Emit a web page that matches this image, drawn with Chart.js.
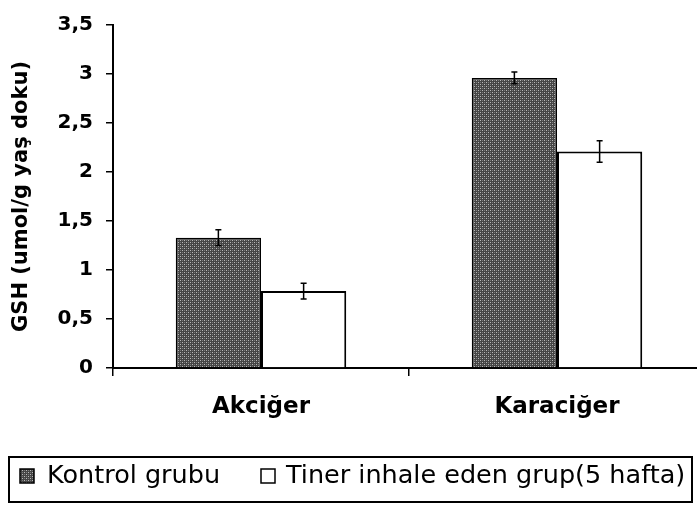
<!DOCTYPE html>
<html><head><meta charset="utf-8">
<script src="https://cdn.jsdelivr.net/npm/chart.js@4.4.1/dist/chart.umd.min.js"></script>
<style>html,body{margin:0;padding:0;background:#fff;overflow:hidden}#wrap{width:697px;height:505px;overflow:hidden}</style>
</head><body><div id="wrap"><canvas id="c" width="705" height="505"></canvas></div>
<script>
const categories = ['Akciğer', 'Karaciğer'];
const seriesNames = ['Kontrol grubu', 'Tiner inhale eden grup(5 hafta)'];
const kontrol = [1.33, 2.96];
const tiner = [0.785, 2.21];
const kontrolErr = [0.08, 0.06];
const tinerErr = [0.08, 0.11];
const yTicks = [0, 0.5, 1, 1.5, 2, 2.5, 3, 3.5];

const FONT = 'DejaVu Sans';

function makePattern() {
  const p = document.createElement('canvas');
  p.width = 4; p.height = 4;
  const g = p.getContext('2d');
  g.fillStyle = '#454545'; g.fillRect(0,0,4,4);
  g.fillStyle = '#b8b8b8';
  g.fillRect(0,0,1,1); g.fillRect(2,2,1,1);
  g.fillStyle = '#7a7a7a';
  g.fillRect(2,0,1,1); g.fillRect(0,2,1,1);
  return document.getElementById('c').getContext('2d').createPattern(p, 'repeat');
}
const pat = makePattern();

const errPlugin = {
  id: 'err',
  afterDatasetsDraw(chart) {
    const ctx = chart.ctx, ys = chart.scales.y;
    const errs = [kontrolErr, tinerErr];
    ctx.save(); ctx.strokeStyle = '#000'; ctx.lineWidth = 1.5;
    chart.data.datasets.forEach((ds, di) => {
      const meta = chart.getDatasetMeta(di);
      meta.data.forEach((bar, i) => {
        const v = ds.data[i], e = errs[di][i];
        const x = bar.x, y1 = ys.getPixelForValue(v + e), y2 = ys.getPixelForValue(v - e);
        ctx.beginPath();
        ctx.moveTo(x, y1); ctx.lineTo(x, y2);
        ctx.moveTo(x-3, y1); ctx.lineTo(x+3, y1);
        ctx.moveTo(x-3, y2); ctx.lineTo(x+3, y2);
        ctx.stroke();
      });
    });
    ctx.restore();
  }
};

const customLegend = {
  id: 'customLegend',
  afterDraw(chart) {
    const ctx = chart.ctx;
    ctx.save();
    ctx.strokeStyle = '#000'; ctx.lineWidth = 2;
    ctx.strokeRect(9, 457, 683, 45);
    ctx.font = '25.5px "' + FONT + '"';
    ctx.textBaseline = 'middle';
    const cy = 476;
    const boxX = [20, 261], textX = [47, 286];
    chart.data.datasets.forEach((d, i) => {
      ctx.fillStyle = d.backgroundColor;
      ctx.fillRect(boxX[i], cy - 7, 14, 14);
      ctx.lineWidth = 1.5; ctx.strokeStyle = '#000';
      ctx.strokeRect(boxX[i], cy - 7, 14, 14);
      ctx.fillStyle = '#000';
      ctx.fillText(d.label, textX[i], cy);
    });
    ctx.restore();
  }
};

new Chart(document.getElementById('c'), {
  type: 'bar',
  data: {
    labels: categories,
    datasets: [
      { label: seriesNames[0], data: kontrol, backgroundColor: pat, borderColor: '#000', borderWidth: 1.5, categoryPercentage: 0.576, barPercentage: 1 },
      { label: seriesNames[1], data: tiner, backgroundColor: '#fff', borderColor: '#000', borderWidth: 2, categoryPercentage: 0.576, barPercentage: 1 }
    ]
  },
  options: {
    responsive: false, animation: false,
    layout: { padding: { top: 20, left: 0, right: 0, bottom: 50 } },
    plugins: {
      tooltip: { enabled: false },
      legend: { display: false }
    },
    scales: {
      x: {
        afterFit(s) { s.height = 87; },
        grid: { drawOnChartArea: false, drawTicks: true, tickLength: 8, color: '#000', lineWidth: 1.5 },
        border: { color: '#000', width: 2 },
        ticks: { color: '#000', font: { family: FONT, size: 23, weight: 'bold' }, padding: 17 }
      },
      y: {
        min: 0, max: 3.5,
        afterFit(s) { s.width = 113; },
        afterBuildTicks(s) { s.ticks = yTicks.map(v => ({ value: v })); },
        grid: { drawOnChartArea: false, drawTicks: true, tickLength: 7, color: '#000', lineWidth: 1.5 },
        border: { color: '#000', width: 2 },
        ticks: { color: '#000', font: { family: FONT, size: 20, weight: 'bold' }, padding: 13,
          callback: v => String(v).replace('.', ',') },
        title: { display: true, text: 'GSH (umol/g yaş doku)', color: '#000', font: { family: FONT, size: 21, weight: 'bold' }, padding: { top: 9, bottom: 0 } }
      }
    }
  },
  plugins: [errPlugin, customLegend]
});
</script></body></html>
